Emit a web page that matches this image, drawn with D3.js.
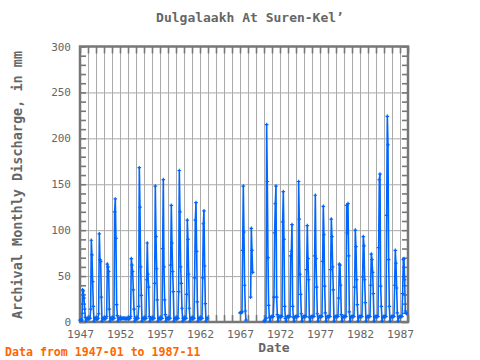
<!DOCTYPE html>
<html><head><meta charset="utf-8">
<script src="https://cdn.jsdelivr.net/npm/d3@7"></script>
<style>body{margin:0;background:#fff}text{font-family:"DejaVu Sans Mono",monospace}</style>
</head><body><svg id="c" width="480" height="360"></svg>
<script>
// Monthly discharge (mm), starting 1947-01, one row per year (Jan..Dec); null = missing
const startYear = 1947;
const discharge = [
  2,2,2,2,35,34,26,14,5,1,3,4,            // 1947
  4,4,4,4,14,89,73,44,17,1,4,4,           // 1948
  4,4,3,4,9,96,68,66,27,1,4,4,            // 1949
  4,4,4,4,6,63,60,55,14,1,4,4,            // 1950
  4,4,4,4,120,134,91,19,7,1,4,4,          // 1951
  4,4,4,4,4,4,4,4,4,3,4,4,                // 1952
  4,4,4,4,6,69,62,55,35,14,1,4,           // 1953
  4,4,4,4,17,168,125,60,29,1,4,4,         // 1954
  4,4,4,4,46,86,52,38,6,1,4,4,            // 1955
  4,4,4,4,42,148,93,58,24,1,4,4,          // 1956
  4,4,4,4,80,155,60,24,8,1,4,4,           // 1957
  4,4,4,4,62,127,86,55,33,1,4,4,          // 1958
  4,4,4,4,33,165,120,60,42,15,1,4,        // 1959
  4,4,4,4,30,111,90,52,15,1,4,4,          // 1960
  4,4,4,4,48,111,130,77,22,1,4,4,         // 1961
  4,4,4,4,48,107,121,61,20,1,4,4,         // 1962
  null,null,null,null,null,null,null,null,null,null,null,null, // 1963
  null,null,null,null,null,null,null,null,null,null,null,null, // 1964
  null,null,null,null,null,null,null,null,null,null,null,null, // 1965
  null,null,null,null,null,null,null,null,null,null,null,null, // 1966
  10,10,10,11,78,148,98,40,12,2,null,null,                     // 1967
  null,null,null,null,27,102,78,54,null,null,null,null,        // 1968
  null,null,null,null,null,null,null,null,null,null,null,null, // 1969
  1,1,2,4,215,153,70,18,5,1,5,6,          // 1970
  6,6,6,27,97,129,148,27,8,1,5,6,         // 1971
  6,6,6,6,109,142,90,17,4,1,5,6,          // 1972
  6,6,6,6,72,77,106,17,5,1,5,6,           // 1973
  6,6,6,6,153,112,52,30,9,1,5,6,          // 1974
  6,6,6,6,57,105,69,46,5,1,5,6,           // 1975
  6,6,6,6,72,138,69,38,9,1,5,6,           // 1976
  6,6,6,6,66,126,95,39,10,1,5,6,          // 1977
  6,6,6,6,57,112,93,60,35,1,5,6,          // 1978
  6,6,6,6,26,63,62,40,8,1,5,6,            // 1979
  6,6,6,6,127,97,129,72,11,1,5,6,         // 1980
  6,6,6,6,38,100,82,46,19,1,5,6,          // 1981
  6,6,6,6,49,93,83,46,21,1,5,6,           // 1982
  6,6,6,6,40,74,68,54,31,1,5,6,           // 1983
  6,6,6,6,81,155,161,39,17,1,5,6,         // 1984
  6,6,6,6,116,224,193,68,17,1,5,6,        // 1985
  6,6,6,6,40,78,64,37,10,1,5,6,           // 1986
  6,6,6,6,31,68,69,46,12,10,9             // 1987 (to Nov)
];
const yTickValues = [0,50,100,150,200,250,300];
const xTickYears = [1947,1952,1957,1962,1967,1972,1977,1982,1987];
const titleText = "Dulgalaakh At Suren-Kel\u2019";
const yLabel = "Archival Monthly Discharge, in mm";
const xLabel = "Date";
const footer = "Data from 1947-01 to 1987-11";

const data = discharge.map((v,i)=>({date:new Date(startYear, i, 1), v}));
const svg = d3.select("#c");
const L=80, R=408, T=46.5, B=322;
const x = d3.scaleTime().domain([new Date(1947,0,1), new Date(1988,0,1)]).range([L,R]);
const y = d3.scaleLinear().domain([0,300]).range([B,T]);
const frameCol="#777", gridCol="#aaa", txtCol="#666";

// grid
const years = d3.range(1948,1988).map(yy=>new Date(yy,0,1));
svg.append("g").attr("transform",`translate(0,${B})`)
  .call(d3.axisBottom(x).tickValues(years).tickSize(-(B-T)).tickFormat(""))
  .call(g=>{g.select(".domain").remove();g.selectAll("line").attr("stroke",gridCol).attr("stroke-width",1);});
svg.append("g").attr("transform",`translate(${L},0)`)
  .call(d3.axisLeft(y).tickValues([50,100,150,200,250]).tickSize(-(R-L)).tickFormat(""))
  .call(g=>{g.select(".domain").remove();g.selectAll("line").attr("stroke",gridCol).attr("stroke-width",1);});

// inward ticks
const yearsAll = d3.range(1947,1989).map(yy=>new Date(yy,0,1));
function styleTicks(g){g.select(".domain").remove();g.selectAll("line").attr("stroke",frameCol).attr("stroke-width",1.6);}
svg.append("g").attr("transform",`translate(0,${T})`).call(d3.axisTop(x).tickValues(yearsAll).tickSize(-7).tickFormat("")).call(styleTicks);
svg.append("g").attr("transform",`translate(0,${B})`).call(d3.axisBottom(x).tickValues(yearsAll).tickSize(-7).tickFormat("")).call(styleTicks);
const minor = d3.range(0,301,10);
svg.append("g").attr("transform",`translate(${L},0)`).call(d3.axisLeft(y).tickValues(minor).tickSize(-6).tickFormat("")).call(styleTicks);
svg.append("g").attr("transform",`translate(${R},0)`).call(d3.axisRight(y).tickValues(minor).tickSize(-6).tickFormat("")).call(styleTicks);

// frame
svg.append("rect").attr("x",L).attr("y",T).attr("width",R-L).attr("height",B-T)
  .attr("fill","none").attr("stroke",frameCol).attr("stroke-width",2.5);

// data line
const blue="#0066ff";
const line = d3.line().defined(d=>d.v!=null).x(d=>x(d.date)).y(d=>y(d.v));
svg.append("path").datum(data).attr("d",line).attr("fill","none").attr("stroke",blue).attr("stroke-width",1.6).attr("stroke-linejoin","round");
svg.append("g").selectAll("path").data(data.filter(d=>d.v!=null)).join("path")
  .attr("d",d=>`M${x(d.date)-1.8},${y(d.v)}H${x(d.date)+1.8}M${x(d.date)},${y(d.v)-1.8}V${y(d.v)+1.8}`)
  .attr("stroke",blue).attr("stroke-width",1.2);

// tick labels
svg.append("g").attr("transform",`translate(${L},0)`)
  .call(d3.axisLeft(y).tickValues(yTickValues).tickSize(0).tickPadding(9))
  .call(g=>{g.select(".domain").remove();g.selectAll("text").attr("fill",txtCol).style("font-size","11px").style("font-family","DejaVu Sans Mono");});
svg.append("g").attr("transform",`translate(0,${B})`)
  .call(d3.axisBottom(x).tickValues(xTickYears.map(yy=>new Date(yy,0,1))).tickSize(0).tickPadding(7.5).tickFormat(d3.timeFormat("%Y")))
  .call(g=>{g.select(".domain").remove();g.selectAll("text").attr("fill",txtCol).style("font-size","11.3px").style("font-family","DejaVu Sans Mono");});

// titles
svg.append("text").attr("x",250).attr("y",22).attr("text-anchor","middle").attr("fill","#666")
  .style("font-size","13px").style("font-weight","bold").text(titleText);
svg.append("text").attr("x",274).attr("y",352).attr("text-anchor","middle").attr("fill","#666")
  .style("font-size","13px").style("font-weight","bold").text(xLabel);
svg.append("text").attr("transform","translate(22,185) rotate(-90)").attr("text-anchor","middle").attr("fill","#666")
  .style("font-size","13.5px").style("font-weight","bold").text(yLabel);
svg.append("text").attr("x",5).attr("y",356).attr("fill","#ff6600")
  .style("font-size","11.6px").style("font-weight","bold").text(footer);
</script></body></html>
